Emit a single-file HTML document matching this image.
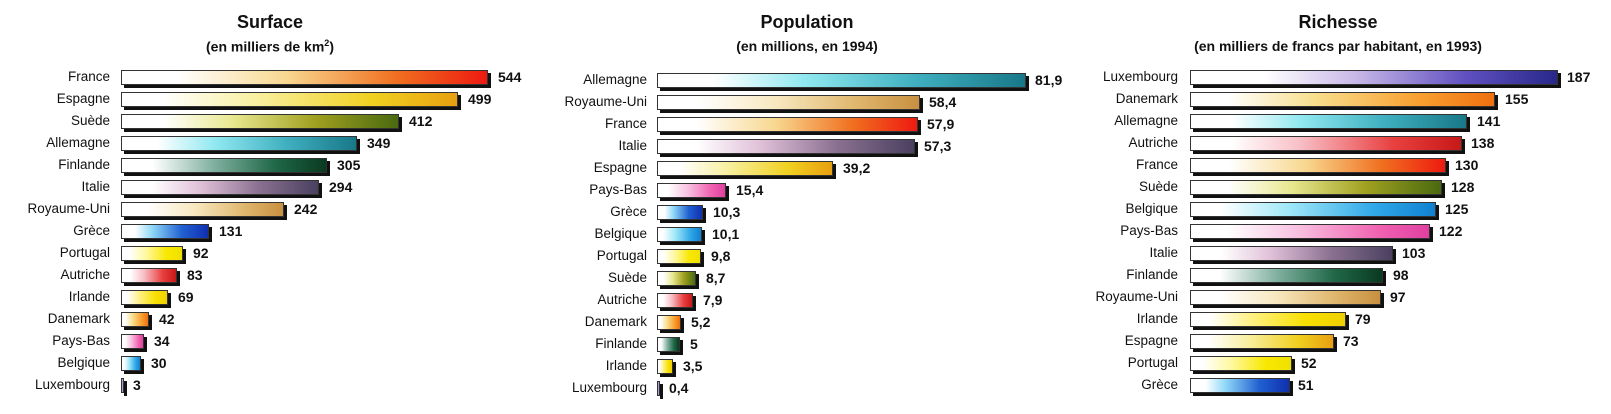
<!DOCTYPE html>
<html><head><meta charset="utf-8">
<style>
body{margin:0;width:1611px;height:414px;background:#fff;position:relative;overflow:hidden;font-family:"Liberation Sans",Arial,sans-serif;color:#111}
.t{position:absolute;font-weight:bold;font-size:18px;transform:translateX(-50%);white-space:nowrap;top:12px}
.s{position:absolute;font-weight:bold;font-size:14px;transform:translateX(-50%);white-space:nowrap;top:38px}
.l{position:absolute;font-size:13.5px;text-align:right;width:120px;line-height:16px;white-space:nowrap}
.b{position:absolute;height:15px;border:1px solid #333;box-shadow:3px 3px 0 #111;box-sizing:border-box}
.v{position:absolute;font-size:14px;font-weight:bold;line-height:16px}
.fr{background:linear-gradient(90deg,#fff 0%,#fff 15%,#f8d890 45%,#f07020 75%,#ee1a10 100%)}
.es{background:linear-gradient(90deg,#fff 0%,#fff 12%,#f8f0a0 40%,#f0d020 75%,#e8a010 100%)}
.se{background:linear-gradient(90deg,#fff 0%,#fff 15%,#e8e890 40%,#a0a020 70%,#4a6a10 100%)}
.al{background:linear-gradient(90deg,#fff 0%,#fff 15%,#90e8f0 40%,#40b0c0 70%,#187888 100%)}
.fi{background:linear-gradient(90deg,#fff 0%,#fff 15%,#80b0a0 45%,#206848 75%,#0a3a20 100%)}
.it{background:linear-gradient(90deg,#fff 0%,#fff 15%,#e0c0d8 40%,#8a7090 70%,#4a4060 100%)}
.ru{background:linear-gradient(90deg,#fff 0%,#fff 15%,#f8e8c0 45%,#e0b870 75%,#c89040 100%)}
.gr{background:linear-gradient(90deg,#fff 0%,#fff 15%,#90d8f8 35%,#2060d0 70%,#1030b0 100%)}
.po{background:linear-gradient(90deg,#fff 0%,#fff 12%,#fff8a0 40%,#f8e800 75%,#f0e000 100%)}
.au{background:linear-gradient(90deg,#fff 0%,#fff 15%,#f8c0c8 40%,#e84040 75%,#c81818 100%)}
.ir{background:linear-gradient(90deg,#fff 0%,#fff 12%,#fff080 40%,#f8e000 75%,#f0d000 100%)}
.da{background:linear-gradient(90deg,#fff 0%,#fff 12%,#f8e090 40%,#f8a030 75%,#f07010 100%)}
.pb{background:linear-gradient(90deg,#fff 0%,#fff 15%,#f8c0e0 45%,#f060b0 80%,#e040a0 100%)}
.be{background:linear-gradient(90deg,#fff 0%,#fff 12%,#a0e8f8 40%,#30a8e8 75%,#1080d0 100%)}
.lu{background:linear-gradient(90deg,#fff 0%,#fff 20%,#c8b8e8 45%,#6050c0 75%,#28288a 100%)}
</style></head><body>

<div class="t" style="left:270px">Surface</div>
<div class="s" style="left:270px">(en milliers de km<sup style="font-size:9px">2</sup>)</div>
<div class="t" style="left:807px">Population</div>
<div class="s" style="left:807px">(en millions, en 1994)</div>
<div class="t" style="left:1338px">Richesse</div>
<div class="s" style="left:1338px">(en milliers de francs par habitant, en 1993)</div>

<!-- Panel 1 -->
<div class="l" style="left:-10px;top:69px">France</div><div class="b fr" style="left:121px;top:70px;width:367px"></div><div class="v" style="left:498px;top:69px">544</div>
<div class="l" style="left:-10px;top:91px">Espagne</div><div class="b es" style="left:121px;top:92px;width:337px"></div><div class="v" style="left:468px;top:91px">499</div>
<div class="l" style="left:-10px;top:113px">Suède</div><div class="b se" style="left:121px;top:114px;width:278px"></div><div class="v" style="left:409px;top:113px">412</div>
<div class="l" style="left:-10px;top:135px">Allemagne</div><div class="b al" style="left:121px;top:136px;width:236px"></div><div class="v" style="left:367px;top:135px">349</div>
<div class="l" style="left:-10px;top:157px">Finlande</div><div class="b fi" style="left:121px;top:158px;width:206px"></div><div class="v" style="left:337px;top:157px">305</div>
<div class="l" style="left:-10px;top:179px">Italie</div><div class="b it" style="left:121px;top:180px;width:198px"></div><div class="v" style="left:329px;top:179px">294</div>
<div class="l" style="left:-10px;top:201px">Royaume-Uni</div><div class="b ru" style="left:121px;top:202px;width:163px"></div><div class="v" style="left:294px;top:201px">242</div>
<div class="l" style="left:-10px;top:223px">Grèce</div><div class="b gr" style="left:121px;top:224px;width:88px"></div><div class="v" style="left:219px;top:223px">131</div>
<div class="l" style="left:-10px;top:245px">Portugal</div><div class="b po" style="left:121px;top:246px;width:62px"></div><div class="v" style="left:193px;top:245px">92</div>
<div class="l" style="left:-10px;top:267px">Autriche</div><div class="b au" style="left:121px;top:268px;width:56px"></div><div class="v" style="left:187px;top:267px">83</div>
<div class="l" style="left:-10px;top:289px">Irlande</div><div class="b ir" style="left:121px;top:290px;width:47px"></div><div class="v" style="left:178px;top:289px">69</div>
<div class="l" style="left:-10px;top:311px">Danemark</div><div class="b da" style="left:121px;top:312px;width:28px"></div><div class="v" style="left:159px;top:311px">42</div>
<div class="l" style="left:-10px;top:333px">Pays-Bas</div><div class="b pb" style="left:121px;top:334px;width:23px"></div><div class="v" style="left:154px;top:333px">34</div>
<div class="l" style="left:-10px;top:355px">Belgique</div><div class="b be" style="left:121px;top:356px;width:20px"></div><div class="v" style="left:151px;top:355px">30</div>
<div class="l" style="left:-10px;top:377px">Luxembourg</div><div class="b lu" style="left:121px;top:378px;width:3px"></div><div class="v" style="left:133px;top:377px">3</div>

<!-- Panel 2 -->
<div class="l" style="left:527px;top:72px">Allemagne</div><div class="b al" style="left:657px;top:73px;width:369px"></div><div class="v" style="left:1035px;top:72px">81,9</div>
<div class="l" style="left:527px;top:94px">Royaume-Uni</div><div class="b ru" style="left:657px;top:95px;width:263px"></div><div class="v" style="left:929px;top:94px">58,4</div>
<div class="l" style="left:527px;top:116px">France</div><div class="b fr" style="left:657px;top:117px;width:261px"></div><div class="v" style="left:927px;top:116px">57,9</div>
<div class="l" style="left:527px;top:138px">Italie</div><div class="b it" style="left:657px;top:139px;width:258px"></div><div class="v" style="left:924px;top:138px">57,3</div>
<div class="l" style="left:527px;top:160px">Espagne</div><div class="b es" style="left:657px;top:161px;width:176px"></div><div class="v" style="left:843px;top:160px">39,2</div>
<div class="l" style="left:527px;top:182px">Pays-Bas</div><div class="b pb" style="left:657px;top:183px;width:69px"></div><div class="v" style="left:736px;top:182px">15,4</div>
<div class="l" style="left:527px;top:204px">Grèce</div><div class="b gr" style="left:657px;top:205px;width:46px"></div><div class="v" style="left:713px;top:204px">10,3</div>
<div class="l" style="left:527px;top:226px">Belgique</div><div class="b be" style="left:657px;top:227px;width:45px"></div><div class="v" style="left:712px;top:226px">10,1</div>
<div class="l" style="left:527px;top:248px">Portugal</div><div class="b po" style="left:657px;top:249px;width:44px"></div><div class="v" style="left:711px;top:248px">9,8</div>
<div class="l" style="left:527px;top:270px">Suède</div><div class="b se" style="left:657px;top:271px;width:39px"></div><div class="v" style="left:706px;top:270px">8,7</div>
<div class="l" style="left:527px;top:292px">Autriche</div><div class="b au" style="left:657px;top:293px;width:36px"></div><div class="v" style="left:703px;top:292px">7,9</div>
<div class="l" style="left:527px;top:314px">Danemark</div><div class="b da" style="left:657px;top:315px;width:24px"></div><div class="v" style="left:691px;top:314px">5,2</div>
<div class="l" style="left:527px;top:336px">Finlande</div><div class="b fi" style="left:657px;top:337px;width:23px"></div><div class="v" style="left:690px;top:336px">5</div>
<div class="l" style="left:527px;top:358px">Irlande</div><div class="b ir" style="left:657px;top:359px;width:16px"></div><div class="v" style="left:683px;top:358px">3,5</div>
<div class="l" style="left:527px;top:380px">Luxembourg</div><div class="b lu" style="left:657px;top:381px;width:3px"></div><div class="v" style="left:669px;top:380px">0,4</div>

<!-- Panel 3 -->
<div class="l" style="left:1058px;top:69px">Luxembourg</div><div class="b lu" style="left:1190px;top:70px;width:368px"></div><div class="v" style="left:1567px;top:69px">187</div>
<div class="l" style="left:1058px;top:91px">Danemark</div><div class="b da" style="left:1190px;top:92px;width:305px"></div><div class="v" style="left:1505px;top:91px">155</div>
<div class="l" style="left:1058px;top:113px">Allemagne</div><div class="b al" style="left:1190px;top:114px;width:277px"></div><div class="v" style="left:1477px;top:113px">141</div>
<div class="l" style="left:1058px;top:135px">Autriche</div><div class="b au" style="left:1190px;top:136px;width:272px"></div><div class="v" style="left:1471px;top:135px">138</div>
<div class="l" style="left:1058px;top:157px">France</div><div class="b fr" style="left:1190px;top:158px;width:256px"></div><div class="v" style="left:1455px;top:157px">130</div>
<div class="l" style="left:1058px;top:179px">Suède</div><div class="b se" style="left:1190px;top:180px;width:252px"></div><div class="v" style="left:1451px;top:179px">128</div>
<div class="l" style="left:1058px;top:201px">Belgique</div><div class="b be" style="left:1190px;top:202px;width:246px"></div><div class="v" style="left:1445px;top:201px">125</div>
<div class="l" style="left:1058px;top:223px">Pays-Bas</div><div class="b pb" style="left:1190px;top:224px;width:240px"></div><div class="v" style="left:1439px;top:223px">122</div>
<div class="l" style="left:1058px;top:245px">Italie</div><div class="b it" style="left:1190px;top:246px;width:203px"></div><div class="v" style="left:1402px;top:245px">103</div>
<div class="l" style="left:1058px;top:267px">Finlande</div><div class="b fi" style="left:1190px;top:268px;width:193px"></div><div class="v" style="left:1393px;top:267px">98</div>
<div class="l" style="left:1058px;top:289px">Royaume-Uni</div><div class="b ru" style="left:1190px;top:290px;width:191px"></div><div class="v" style="left:1390px;top:289px">97</div>
<div class="l" style="left:1058px;top:311px">Irlande</div><div class="b ir" style="left:1190px;top:312px;width:156px"></div><div class="v" style="left:1355px;top:311px">79</div>
<div class="l" style="left:1058px;top:333px">Espagne</div><div class="b es" style="left:1190px;top:334px;width:144px"></div><div class="v" style="left:1343px;top:333px">73</div>
<div class="l" style="left:1058px;top:355px">Portugal</div><div class="b po" style="left:1190px;top:356px;width:102px"></div><div class="v" style="left:1301px;top:355px">52</div>
<div class="l" style="left:1058px;top:377px">Grèce</div><div class="b gr" style="left:1190px;top:378px;width:100px"></div><div class="v" style="left:1298px;top:377px">51</div>

</body></html>
